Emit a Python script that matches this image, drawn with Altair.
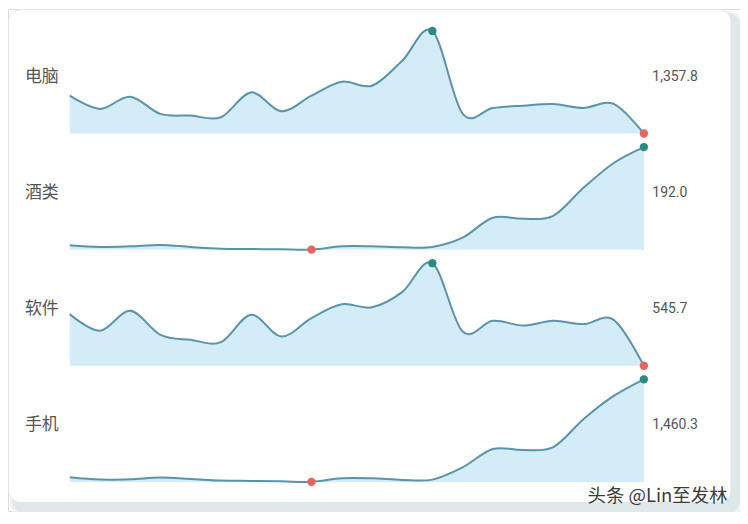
import altair as alt
import pandas as pd

categories = ["电脑", "酒类", "软件", "手机"]

computer = [2390.8, 2029.3, 2363.6, 1893.3, 1847.1, 1800.9, 2480.5, 1964.0, 2390.8, 2771.4,
            2662.7, 3342.3, 4157.8, 1901.5, 2056.4, 2119.0, 2165.2, 2056.4, 2165.2, 1357.8]
liquor = [16.2, 13.3, 14.4, 16.9, 13.3, 10.3, 9.7, 9.0, 8.5, 14.4,
          14.4, 12.6, 13.3, 29.9, 65.5, 63.7, 69.1, 119.0, 163.5, 192.0]
software = [1099.5, 920.6, 1134.8, 877.7, 824.2, 799.5, 1092.0, 859.5, 1056.6, 1204.4,
            1172.3, 1335.1, 1645.7, 913.1, 1027.7, 977.3, 1027.7, 992.3, 1038.4, 545.7]
phone = [124.4, 93.2, 97.3, 120.4, 102.7, 79.6, 75.6, 70.1, 62.0, 110.9,
         110.9, 89.2, 93.2, 260.2, 510.0, 496.4, 537.2, 917.3, 1233.6, 1460.3]

series = [computer, liquor, software, phone]
watermark = "头条 @Lin至发林"

rows = []
for r, (cat, vals) in enumerate(zip(categories, series)):
    for i, v in enumerate(vals):
        rows.append({"category": cat, "row": r, "idx": i, "value": v})
df = pd.DataFrame(rows)

labels = pd.DataFrame({
    "category": categories,
    "row": list(range(len(categories))),
    "last": [s[-1] for s in series],
})

W, H = 735, 504
x_scale = alt.Scale(domain=[0, 19], range=[62, 638.5], nice=False, zero=False)
y_scale = alt.Scale(domain=[0, H], range=[H, 0], nice=False, zero=False)

BASE0 = H - 125      # baseline of the first panel (value units == pixels)
PITCH = 116.6
SPAN = 103

base = alt.Chart(df).transform_joinaggregate(
    vmin="min(value)", vmax="max(value)", groupby=["category"]
).transform_calculate(
    base=f"{BASE0} - datum.row * {PITCH}",
    ytop=f"{BASE0} - datum.row * {PITCH} + {SPAN} * (datum.value - datum.vmin) / (datum.vmax - datum.vmin)",
)

X = alt.X("idx:Q", scale=x_scale, axis=None)
Y = alt.Y("ytop:Q", scale=y_scale, axis=None)

INTERP = "cardinal"

area = base.mark_area(interpolate=INTERP, color="#d3ecf8", opacity=1).encode(
    x=X, y=Y, y2="base:Q", detail="category:N"
)
line = base.mark_line(interpolate=INTERP, color="#5b93ab", strokeWidth=2).encode(
    x=X, y=Y, detail="category:N"
)
pmax = base.transform_filter("datum.value == datum.vmax").mark_circle(
    size=70, color="#2b8a83", opacity=1
).encode(x=X, y=Y)
pmin = base.transform_filter("datum.value == datum.vmin").mark_circle(
    size=70, color="#e8635f", opacity=1
).encode(x=X, y=Y)

lab = alt.Chart(labels).transform_calculate(
    ly=f"{BASE0} - datum.row * {PITCH} + 57"
)
left_text = lab.mark_text(
    align="left", baseline="middle", fontSize=17, font="Noto Sans CJK SC", color="#555555"
).encode(x=alt.value(17), y=alt.Y("ly:Q", scale=y_scale, axis=None), text="category:N")
right_text = lab.mark_text(
    align="left", baseline="middle", fontSize=14, font="Roboto", color="#555555"
).encode(x=alt.value(647), y=alt.Y("ly:Q", scale=y_scale, axis=None),
         text=alt.Text("last:Q", format=",.1f"))

one = pd.DataFrame({"k": [0]})
shadow2 = alt.Chart(one).mark_rect(cornerRadius=14, fill="#eef3f4").encode(
    x=alt.value(2), x2=alt.value(738), y=alt.value(2), y2=alt.value(510)
)
shadow = alt.Chart(one).mark_rect(cornerRadius=12, fill="#dfe8eb").encode(
    x=alt.value(4), x2=alt.value(735), y=alt.value(4), y2=alt.value(506)
)
card = alt.Chart(one).mark_rect(cornerRadius=12, fill="#ffffff", stroke="#e2e2e2", strokeWidth=1).encode(
    x=alt.value(0.5), x2=alt.value(726), y=alt.value(0.5), y2=alt.value(495.5)
)
wm = alt.Chart(one).mark_text(
    align="left", baseline="middle", fontSize=18.5, font="Noto Sans CJK SC", color="#3a3a3a"
).encode(x=alt.value(582), y=alt.value(489), text=alt.value(watermark))

chart = alt.layer(
    shadow2, shadow, card, area, line, pmax, pmin, left_text, right_text, wm
).properties(
    width=W, height=H, padding=0, autosize=alt.AutoSizeParams(type="none")
).configure_view(stroke=None).configure(background="#ffffff")

chart.save("out.html", embed_options={"renderer": "svg", "actions": False})
